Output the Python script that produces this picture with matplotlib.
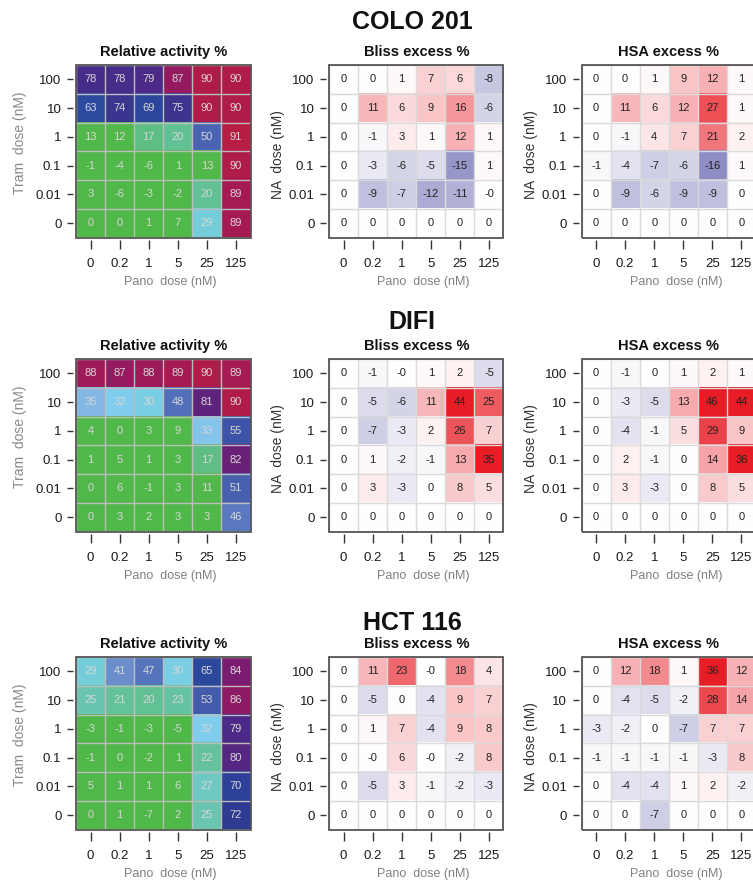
import numpy as np
import matplotlib
matplotlib.use("Agg")
import matplotlib.pyplot as plt
from matplotlib.colors import LinearSegmentedColormap, TwoSlopeNorm, Normalize
from matplotlib.patches import Rectangle

plt.rcParams['font.family'] = ['Liberation Sans', 'DejaVu Sans']

# Datos
cell_lines = ["COLO 201", "DIFI", "HCT 116"]
panel_titles = ["Relative activity %", "Bliss excess %", "HSA excess %"]
pano_doses = ["0", "0.2", "1", "5", "25", "125"]
na_doses = ["100", "10", "1", "0.1", "0.01", "0"]   # de arriba a abajo

colo_rel = [[78, 78, 79, 87, 90, 90],
            [63, 74, 69, 75, 90, 90],
            [13, 12, 17, 20, 50, 91],
            [-1, -4, -6, 1, 13, 90],
            [3, -6, -3, -2, 20, 89],
            [0, 0, 1, 7, 29, 89]]
colo_bliss = [[0, 0, 1, 7, 6, -8],
              [0, 11, 6, 9, 16, -6],
              [0, -1, 3, 1, 12, 1],
              [0, -3, -6, -5, -15, 1],
              [0, -9, -7, -12, -11, -0.0],
              [0, 0, 0, 0, 0, 0]]
colo_hsa = [[0, 0, 1, 9, 12, 1],
            [0, 11, 6, 12, 27, 1],
            [0, -1, 4, 7, 21, 2],
            [-1, -4, -7, -6, -16, 1],
            [0, -9, -6, -9, -9, 0],
            [0, 0, 0, 0, 0, 0]]

difi_rel = [[88, 87, 88, 89, 90, 89],
            [35, 32, 30, 48, 81, 90],
            [4, 0, 3, 9, 33, 55],
            [1, 5, 1, 3, 17, 82],
            [0, 6, -1, 3, 11, 51],
            [0, 3, 2, 3, 3, 46]]
difi_bliss = [[0, -1, -0.0, 1, 2, -5],
              [0, -5, -6, 11, 44, 25],
              [0, -7, -3, 2, 26, 7],
              [0, 1, -2, -1, 13, 35],
              [0, 3, -3, 0, 8, 5],
              [0, 0, 0, 0, 0, 0]]
difi_hsa = [[0, -1, 0, 1, 2, 1],
            [0, -3, -5, 13, 46, 44],
            [0, -4, -1, 5, 29, 9],
            [0, 2, -1, 0, 14, 36],
            [0, 3, -3, 0, 8, 5],
            [0, 0, 0, 0, 0, 0]]

hct_rel = [[29, 41, 47, 30, 65, 84],
           [25, 21, 20, 23, 53, 86],
           [-3, -1, -3, -5, 32, 79],
           [-1, 0, -2, 1, 22, 80],
           [5, 1, 1, 6, 27, 70],
           [0, 1, -7, 2, 25, 72]]
hct_bliss = [[0, 11, 23, -0.0, 18, 4],
             [0, -5, 0, -4, 9, 7],
             [0, 1, 7, -4, 9, 8],
             [0, -0.0, 6, -0.0, -2, 8],
             [0, -5, 3, -1, -2, -3],
             [0, 0, 0, 0, 0, 0]]
hct_hsa = [[0, 12, 18, 1, 36, 12],
           [0, -4, -5, -2, 28, 14],
           [-3, -2, 0, -7, 7, 7],
           [-1, -1, -1, -1, -3, 8],
           [0, -4, -4, 1, 2, -2],
           [0, 0, -7, 0, 0, 0]]

grids = [[colo_rel, colo_bliss, colo_hsa],
         [difi_rel, difi_bliss, difi_hsa],
         [hct_rel, hct_bliss, hct_hsa]]

# Escalas de color
rel_stops = [(-10, '#4fb848'), (13, '#52b94b'), (17, '#5fbf88'), (22, '#66c39e'),
             (26, '#6bc7b6'), (29, '#75cfdc'), (32, '#82cdef'), (35, '#84b6e4'),
             (41, '#6a8ecc'), (46, '#5a79c0'), (50, '#4a64b1'), (55, '#3f56a8'),
             (63, '#2c4a9f'), (69, '#2d469c'), (72, '#303a93'), (75, '#3f348e'),
             (79, '#4a2c89'), (81, '#60247e'), (84, '#7a1d70'), (87, '#951a60'),
             (89, '#a31a56'), (90, '#b01c4a'), (91, '#b61e45'), (100, '#c0203f')]
lo, hi = rel_stops[0][0], rel_stops[-1][0]
rel_cmap = LinearSegmentedColormap.from_list(
    "rel", [((v - lo) / (hi - lo), c) for v, c in rel_stops])
rel_norm = Normalize(vmin=lo, vmax=hi)

exc_cmap = LinearSegmentedColormap.from_list("exc", ['#3c3c9b', '#ffffff', '#e81c24'])
exc_norm = TwoSlopeNorm(vmin=-28, vcenter=0, vmax=35)

W, H = 753, 881
fig = plt.figure(figsize=(W / 100, H / 100), dpi=100)

col_left = [76, 329, 581.5]
row_top = [65, 359, 657]
axw, axh = 174.5, 172.5
big_title_y = [22, 322, 623]

for r in range(3):
    fig.text(412 / W, 1 - big_title_y[r] / H, cell_lines[r], ha='center', va='center',
             fontsize=18, fontweight='bold', color='#111111')
    for c in range(3):
        data = np.array(grids[r][c], dtype=float)
        ax = fig.add_axes([col_left[c] / W, (H - row_top[r] - axh) / H, axw / W, axh / H])
        if c == 0:
            ax.imshow(data, cmap=rel_cmap, norm=rel_norm, aspect='auto',
                      extent=(-0.5, 5.5, 5.5, -0.5), interpolation='nearest')
            txt_col, grid_col = '#d6d6d6', '#bdbdbd'
        else:
            ax.imshow(data, cmap=exc_cmap, norm=exc_norm, aspect='auto',
                      extent=(-0.5, 5.5, 5.5, -0.5), interpolation='nearest')
            txt_col, grid_col = '#222222', '#dadada'
        for i in range(6):
            for j in range(6):
                ax.text(j, i, f"{data[i, j]:.0f}", ha='center', va='center',
                        fontsize=8, color=txt_col)

        ax.set_xlim(-0.5, 5.5)
        ax.set_ylim(5.5, -0.5)
        ax.set_xticks(np.arange(6))
        ax.set_xticklabels(pano_doses)
        ax.set_yticks(np.arange(6))
        ax.set_yticklabels(na_doses)
        ax.set_xticks(np.arange(-0.5, 6), minor=True)
        ax.set_yticks(np.arange(-0.5, 6), minor=True)
        ax.grid(which='minor', color=grid_col, lw=1)
        ax.tick_params(which='minor', length=0)
        ax.tick_params(axis='x', which='major', length=6.5, width=1, color='#333333',
                       pad=6.5, labelsize=9.5, labelcolor='#1a1a1a')
        ax.tick_params(axis='y', which='major', length=4.5, width=1, color='#333333',
                       pad=4, labelsize=9.5, labelcolor='#1a1a1a')
        for name, sp in ax.spines.items():
            sp.set_visible(False)
        ax.spines['bottom'].set_position(('outward', 2))
        ax.spines['left'].set_position(('outward', 2))
        ax.add_patch(Rectangle((0, 0), 1, 1, transform=ax.transAxes, fill=False,
                               ec='#555555', lw=1.3, clip_on=False, zorder=5))

        ax.text(0.5, 1 + 13 / axh, panel_titles[c], transform=ax.transAxes,
                ha='center', va='center', fontsize=10.5, fontweight='bold', color='#111111')
        ax.text(0.5 + 7 / axw, -45 / axh, "Pano  dose (nM)", transform=ax.transAxes,
                ha='center', va='center', fontsize=9, color='#808080')
        if c == 0:
            ax.text(-56 / axw, 0.55, "Tram  dose (nM)", transform=ax.transAxes,
                    ha='center', va='center', rotation=90, fontsize=10, color='#8a8a8a')
        else:
            ax.text(-51 / axw, 0.48, "NA  dose (nM)", transform=ax.transAxes,
                    ha='center', va='center', rotation=90, fontsize=10, color='#333333')

fig.savefig("out.png", dpi=100)
